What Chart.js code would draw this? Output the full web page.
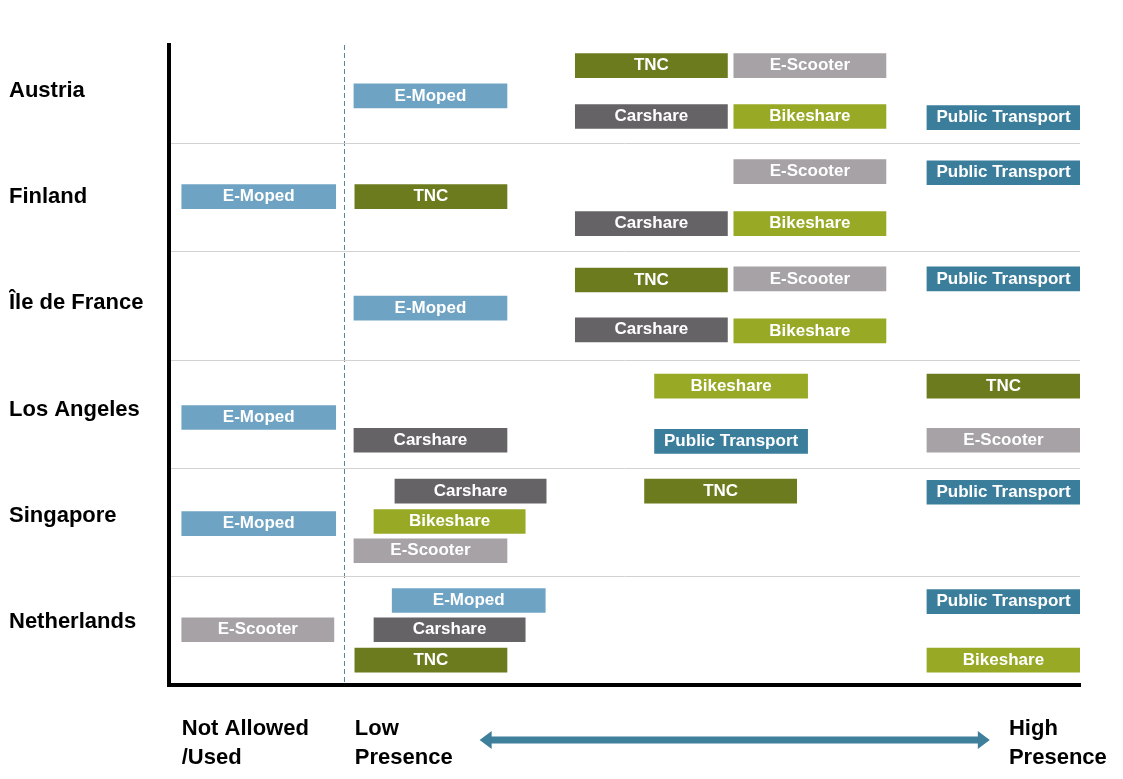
<!DOCTYPE html>
<html>
<head>
<meta charset="utf-8">
<script src="https://cdn.jsdelivr.net/npm/chart.js@4.4.1/dist/chart.umd.min.js"></script>
<style>
  html, body { margin: 0; padding: 0; background: #fff; }
  #wrap { width: 1123px; height: 779px; position: relative; }
</style>
</head>
<body>
<div id="wrap"><canvas id="myChart"></canvas></div>
<script>
// rows, top to bottom
const countries = ['Austria', 'Finland', 'Île de France', 'Los Angeles', 'Singapore', 'Netherlands'];

// each entry: [start, end, level] per country (same order as countries)
// x: 0 = left axis, 100 = right edge; level: 0 = bottom axis, one unit per row
const eMoped = [[20.3, 37.1, 5.44], [1.4, 18.3, 4.51], [20.3, 37.1, 3.48], [1.4, 18.3, 2.47], [1.4, 18.3, 1.49], [24.5, 41.3, 0.78]];
const tnc = [[44.6, 61.3, 5.72], [20.4, 37.1, 4.51], [44.6, 61.3, 3.74], [83.2, 100, 2.76], [52.2, 68.9, 1.79], [20.4, 37.1, 0.23]];
const carshare = [[44.6, 61.3, 5.25], [44.6, 61.3, 4.26], [44.6, 61.3, 3.28], [20.3, 37.1, 2.26], [24.8, 41.4, 1.79], [22.5, 39.1, 0.51]];
const bikeshare = [[62.0, 78.7, 5.25], [62.0, 78.7, 4.26], [62.0, 78.7, 3.27], [53.3, 70.1, 2.76], [22.5, 39.1, 1.51], [83.2, 100, 0.23]];
const eScooter = [[62.0, 78.7, 5.72], [62.0, 78.7, 4.74], [62.0, 78.7, 3.75], [83.2, 100, 2.26], [20.3, 37.1, 1.24], [1.4, 18.1, 0.51]];
const publicTransport = [[83.2, 100, 5.24], [83.2, 100, 4.73], [83.2, 100, 3.75], [53.3, 70.1, 2.25], [83.2, 100, 1.78], [83.2, 100, 0.77]];

// bottom scale
const scaleTicks = [1.4, 20.4, 92.2];
const scaleLabels = [['Not Allowed', '/Used'], ['Low', 'Presence'], ['High', 'Presence']];
const dividerAt = 19.3;
const arrowRange = [34.1, 90.1];

const modes = [
    { label: 'E-Moped', rows: eMoped, color: 'rgb(111, 163, 196)' },
    { label: 'TNC', rows: tnc, color: 'rgb(107, 123, 29)' },
    { label: 'Carshare', rows: carshare, color: 'rgb(102, 99, 102)' },
    { label: 'Bikeshare', rows: bikeshare, color: 'rgb(152, 169, 38)' },
    { label: 'E-Scooter', rows: eScooter, color: 'rgb(167, 162, 165)' },
    { label: 'Public Transport', rows: publicTransport, color: 'rgb(59, 126, 156)' }
];

const FONT = "'Liberation Sans', Arial, sans-serif";

// white names inside the boxes
const boxLabels = {
    id: 'boxLabels',
    afterDatasetsDraw(chart) {
        const ctx = chart.ctx;
        ctx.save();
        ctx.fillStyle = '#fff';
        ctx.font = 'bold 17px ' + FONT;
        ctx.textAlign = 'center';
        ctx.textBaseline = 'middle';
        chart.data.datasets.forEach((ds, i) => {
            chart.getDatasetMeta(i).data.forEach(bar => {
                ctx.fillText(ds.label, (bar.x + bar.base) / 2, bar.y);
            });
        });
        ctx.restore();
    }
};

// double arrow under the axis
const presenceArrow = {
    id: 'presenceArrow',
    afterDraw(chart) {
        const ctx = chart.ctx;
        const xs = chart.scales.x;
        const x1 = xs.getPixelForValue(arrowRange[0]);
        const x2 = xs.getPixelForValue(arrowRange[1]);
        const y = chart.chartArea.bottom + 55;
        ctx.save();
        ctx.fillStyle = 'rgb(62, 127, 156)';
        ctx.fillRect(x1 + 10, y - 3.5, x2 - x1 - 20, 7);
        ctx.beginPath();
        ctx.moveTo(x1, y);
        ctx.lineTo(x1 + 12, y - 9);
        ctx.lineTo(x1 + 12, y + 9);
        ctx.closePath();
        ctx.moveTo(x2, y);
        ctx.lineTo(x2 - 12, y - 9);
        ctx.lineTo(x2 - 12, y + 9);
        ctx.closePath();
        ctx.fill();
        ctx.restore();
    }
};

const data = {
    datasets: modes.map(m => ({
        label: m.label,
        data: m.rows.map(r => ({ x: [r[0], r[1]], y: r[2] })),
        backgroundColor: m.color,
        borderWidth: 0,
        barThickness: 24,
        grouped: false
    }))
};

const config = {
    type: 'bar',
    data: data,
    options: {
        indexAxis: 'y',
        responsive: true,
        maintainAspectRatio: false,
        animation: false,
        layout: { padding: { left: 9, top: 45, right: 43, bottom: 0 } },
        scales: {
            x: {
                type: 'linear',
                position: 'bottom',
                min: 0,
                max: 100,
                offset: false,
                afterBuildTicks: s => { s.ticks = scaleTicks.map(v => ({ value: v })); },
                afterFit: s => { s.height = 94; s.paddingLeft = 0; s.paddingRight = 0; },
                grid: { display: false, drawTicks: false },
                border: { display: true, color: '#000', width: 4 },
                ticks: {
                    autoSkip: false,
                    maxRotation: 0,
                    align: 'start',
                    padding: 30,
                    color: '#000',
                    font: { family: FONT, size: 22, weight: 'bold', lineHeight: 1.3 },
                    callback: (v, i) => scaleLabels[i]
                }
            },
            xGrid: {
                type: 'linear',
                position: 'top',
                min: 0,
                max: 100,
                offset: false,
                afterBuildTicks: s => { s.ticks = [{ value: dividerAt }]; },
                afterFit: s => { s.height = 0; s.paddingLeft = 0; s.paddingRight = 0; },
                grid: { color: 'rgb(90, 135, 160)', lineWidth: 1, drawTicks: false },
                border: { display: false, dash: [5, 3] },
                ticks: { display: false }
            },
            y: {
                type: 'linear',
                position: 'left',
                min: 0,
                max: 5.91,
                offset: false,
                // country names sit a little above the middle of each row
                afterBuildTicks: s => { s.ticks = countries.map((c, i) => ({ value: 5 - i + 0.49 + 0.018 * i })); },
                afterFit: s => { s.width = 160; s.paddingTop = 0; s.paddingBottom = 0; },
                grid: { display: false, drawTicks: false },
                border: { display: true, color: '#000', width: 4 },
                ticks: {
                    crossAlign: 'far',
                    color: '#000',
                    font: { family: FONT, size: 22, weight: 'bold' },
                    callback: (v, i) => countries[i]
                }
            },
            yGrid: {
                type: 'linear',
                position: 'right',
                min: 0,
                max: 5.91,
                offset: false,
                afterBuildTicks: s => { s.ticks = [1, 2, 3, 4, 5].map(v => ({ value: v })); },
                afterFit: s => { s.width = 0; s.paddingTop = 0; s.paddingBottom = 0; },
                grid: { color: 'rgb(210, 210, 210)', lineWidth: 1, drawTicks: false, offset: false },
                border: { display: false },
                ticks: { display: false }
            }
        },
        plugins: {
            legend: { display: false },
            tooltip: { enabled: false }
        }
    },
    plugins: [boxLabels, presenceArrow]
};

var myChart = new Chart(document.getElementById('myChart'), config);
</script>
</body>
</html>
